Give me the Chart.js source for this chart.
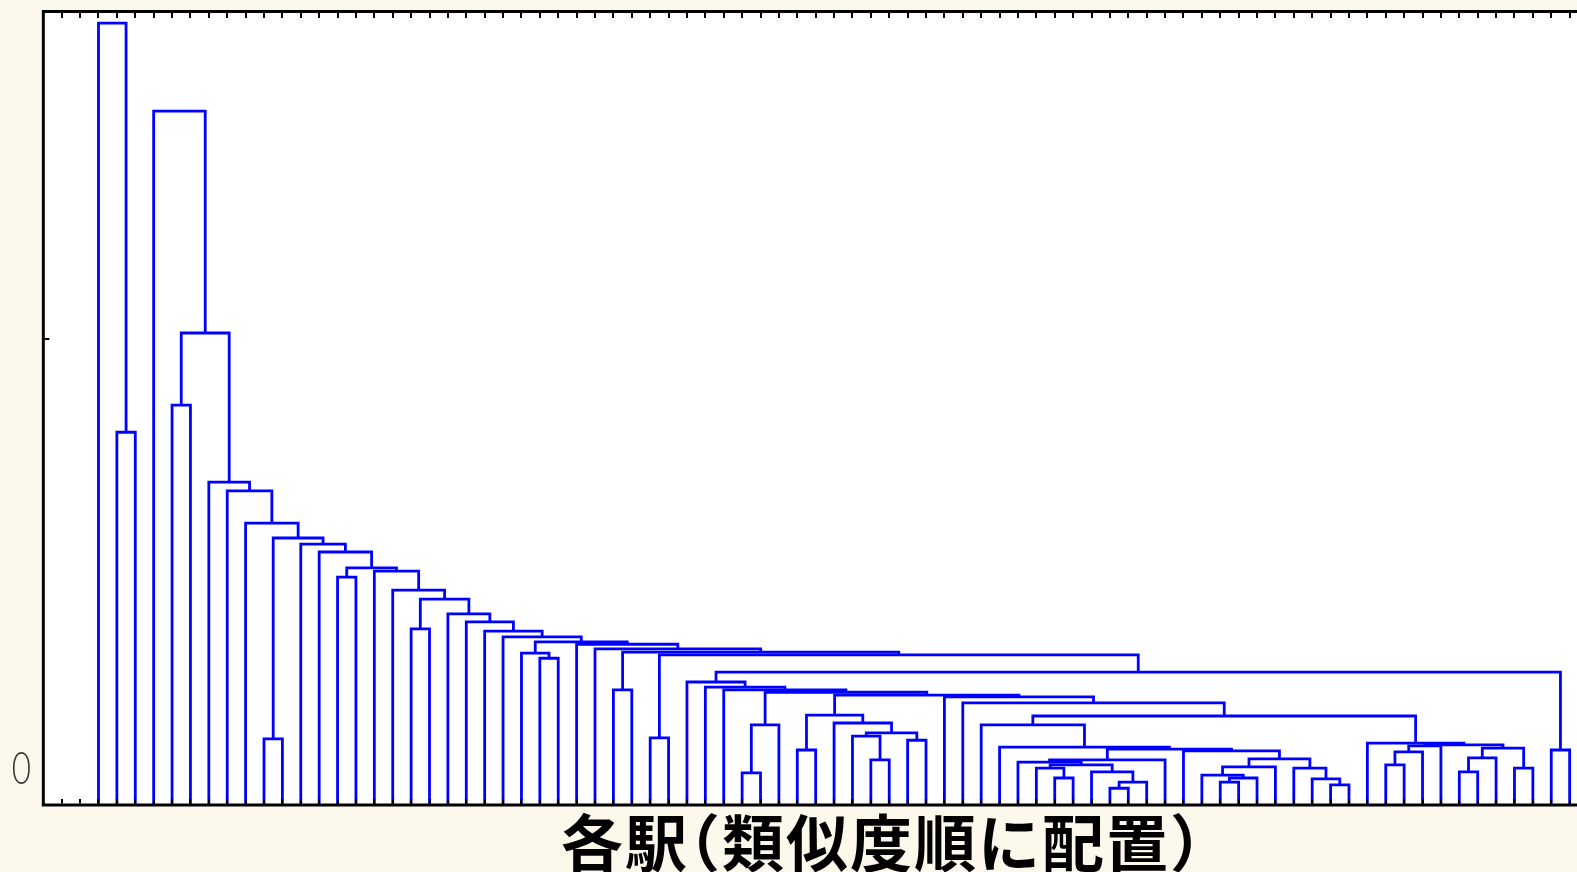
<!DOCTYPE html>
<html>
<head>
<meta charset="utf-8">
<script src="https://cdn.jsdelivr.net/npm/chart.js@4/dist/chart.umd.min.js"></script>
<style>
  html, body { margin: 0; padding: 0; background: #fdf8ec; overflow: hidden; width: 1577px; height: 872px; }
  #wrap { position: relative; width: 1577px; height: 872px; }
  #c { position: absolute; left: 0; top: 0; }
  #xtitle {
    position: absolute; left: 382px; width: 1000px; top: 809px;
    text-align: center; white-space: nowrap;
    font-family: "Noto Sans CJK JP", sans-serif; font-weight: bold;
    font-size: 62px; line-height: 1; color: #000;
    letter-spacing: 2px;
    font-feature-settings: "halt";
  }
</style>
</head>
<body>
<div id="wrap">
  <canvas id="c" width="1577" height="872"></canvas>
  <div id="xtitle">各駅（類似度順に配置）</div>
</div>
<script>
// Stations in similarity order (leaf positions 0..80 along the x axis)
const leafCount = 81;

// Agglomeration steps, linkage style: node id = leafCount + step index
const mergeLeft = [
  1, 0, 4, 9, 13, 17, 24, 23, 28, 30,
  35, 91, 38, 42, 41, 44, 95, 40, 93, 52,
  51, 55, 102, 54, 101, 50, 106, 61, 108, 60,
  110, 67, 66, 65, 111, 59, 107, 49, 48, 70,
  120, 121, 74, 123, 77, 124, 122, 69, 119, 47,
  46, 99, 92, 34, 33, 32, 79, 136, 90, 89,
  27, 26, 88, 22, 21, 20, 19, 86, 16, 15,
  85, 12, 11, 84, 8, 7, 6, 83, 3
];
const mergeRight = [
  2, 81, 5, 10, 14, 18, 25, 87, 29, 31,
  36, 37, 39, 43, 94, 45, 96, 97, 98, 53,
  100, 56, 57, 103, 104, 105, 58, 62, 63, 109,
  64, 68, 112, 113, 114, 115, 116, 117, 118, 71,
  72, 73, 75, 76, 78, 125, 126, 127, 128, 129,
  130, 131, 132, 133, 134, 135, 80, 137, 138, 139,
  140, 141, 142, 143, 144, 145, 146, 147, 148, 149,
  150, 151, 152, 153, 154, 155, 156, 157, 158
];
const mergeHeight = [
  0.800, 1.678, 0.858, 0.142, 0.489, 0.378, 0.315, 0.326, 0.247, 0.144,
  0.069, 0.172, 0.118, 0.097, 0.148, 0.139, 0.155, 0.176, 0.193, 0.058,
  0.079, 0.036, 0.049, 0.071, 0.086, 0.092, 0.097, 0.049, 0.058, 0.064,
  0.082, 0.043, 0.056, 0.079, 0.099, 0.116, 0.120, 0.124, 0.172, 0.086,
  0.114, 0.127, 0.071, 0.101, 0.079, 0.122, 0.129, 0.133, 0.191, 0.219,
  0.232, 0.236, 0.242, 0.247, 0.253, 0.264, 0.118, 0.285, 0.322, 0.328,
  0.335, 0.345, 0.350, 0.361, 0.373, 0.393, 0.410, 0.442, 0.461, 0.502,
  0.509, 0.543, 0.560, 0.573, 0.605, 0.674, 0.693, 1.013, 1.489
];

// Y axis tick marks and their labels
const yTickValues = [0, 1];
const yTickLabels = ['0', ''];

// Node positions: leaves sit at their order index and height 0,
// each cluster sits midway between its two children at its joining height.
const nodeX = [], nodeH = [];
for (let i = 0; i < leafCount; i++) { nodeX.push(i); nodeH.push(0); }
mergeLeft.forEach((a, k) => {
  const b = mergeRight[k];
  nodeX.push((nodeX[a] + nodeX[b]) / 2);
  nodeH.push(mergeHeight[k]);
});

// One bracket-shaped line per merge
const datasets = mergeLeft.map((a, k) => {
  const b = mergeRight[k], h = mergeHeight[k];
  return {
    data: [
      { x: nodeX[a], y: nodeH[a] },
      { x: nodeX[a], y: h },
      { x: nodeX[b], y: h },
      { x: nodeX[b], y: nodeH[b] }
    ],
    showLine: true,
    borderColor: '#0000ff',
    borderWidth: 2.8,
    borderJoinStyle: 'miter',
    borderCapStyle: 'butt',
    pointRadius: 0,
    tension: 0,
    fill: false
  };
});

const plotFrame = {
  id: 'plotFrame',
  beforeDatasetsDraw(chart) {
    const { ctx, chartArea: a } = chart;
    ctx.save();
    ctx.fillStyle = '#ffffff';
    ctx.fillRect(a.left, a.top, a.right - a.left, a.bottom - a.top);
    ctx.restore();
  },
  afterDatasetsDraw(chart) {
    const { ctx, chartArea: a, scales: { x, y } } = chart;
    ctx.save();
    // frame: left, top and bottom edges
    ctx.strokeStyle = '#000000';
    ctx.lineWidth = 3;
    ctx.lineCap = 'square';
    ctx.beginPath();
    ctx.moveTo(a.left, a.bottom);
    ctx.lineTo(a.left, a.top);
    ctx.lineTo(a.right + 2, a.top);
    ctx.moveTo(a.left, a.bottom);
    ctx.lineTo(a.right + 2, a.bottom);
    ctx.stroke();

    // inward tick marks along the top and bottom edges
    ctx.lineWidth = 2;
    ctx.lineCap = 'butt';
    ctx.beginPath();
    for (let v = Math.ceil(x.min) + 1; v <= Math.floor(x.max); v++) {
      const px = Math.round(x.getPixelForValue(v));
      ctx.moveTo(px, a.bottom - 1.5);
      ctx.lineTo(px, a.bottom - 6);
      ctx.moveTo(px, a.top + 1.5);
      ctx.lineTo(px, a.top + 6.5);
    }
    // inward tick marks on the left edge
    yTickValues.forEach(v => {
      if (v <= y.min) return;
      const py = Math.round(y.getPixelForValue(v));
      ctx.moveTo(a.left + 1.5, py);
      ctx.lineTo(a.left + 6, py);
    });
    ctx.stroke();

    // y tick labels
    ctx.fillStyle = '#3a3a3a';
    ctx.font = '300 45px Lato, "Open Sans", Roboto, sans-serif';
    ctx.textAlign = 'center';
    ctx.textBaseline = 'alphabetic';
    yTickValues.forEach((v, i) => {
      const label = yTickLabels[i];
      if (!label) return;
      const py = y.getPixelForValue(v);
      ctx.save();
      ctx.translate(21.5, py - 21);
      ctx.scale(0.74, 1);
      ctx.fillText(label, 0, 0);
      ctx.restore();
    });
    ctx.restore();
  }
};

new Chart(document.getElementById('c'), {
  type: 'scatter',
  data: { datasets },
  options: {
    responsive: false,
    animation: false,
    devicePixelRatio: 1,
    layout: { padding: { left: 43.33, top: 11.5, right: 0, bottom: 67 } },
    plugins: { legend: { display: false }, tooltip: { enabled: false }, title: { display: false } },
    scales: {
      x: { type: 'linear', min: -3, max: 80.4, display: false },
      y: { type: 'linear', min: 0, max: 1.703, display: false }
    }
  },
  plugins: [plotFrame]
});
</script>
</body>
</html>
